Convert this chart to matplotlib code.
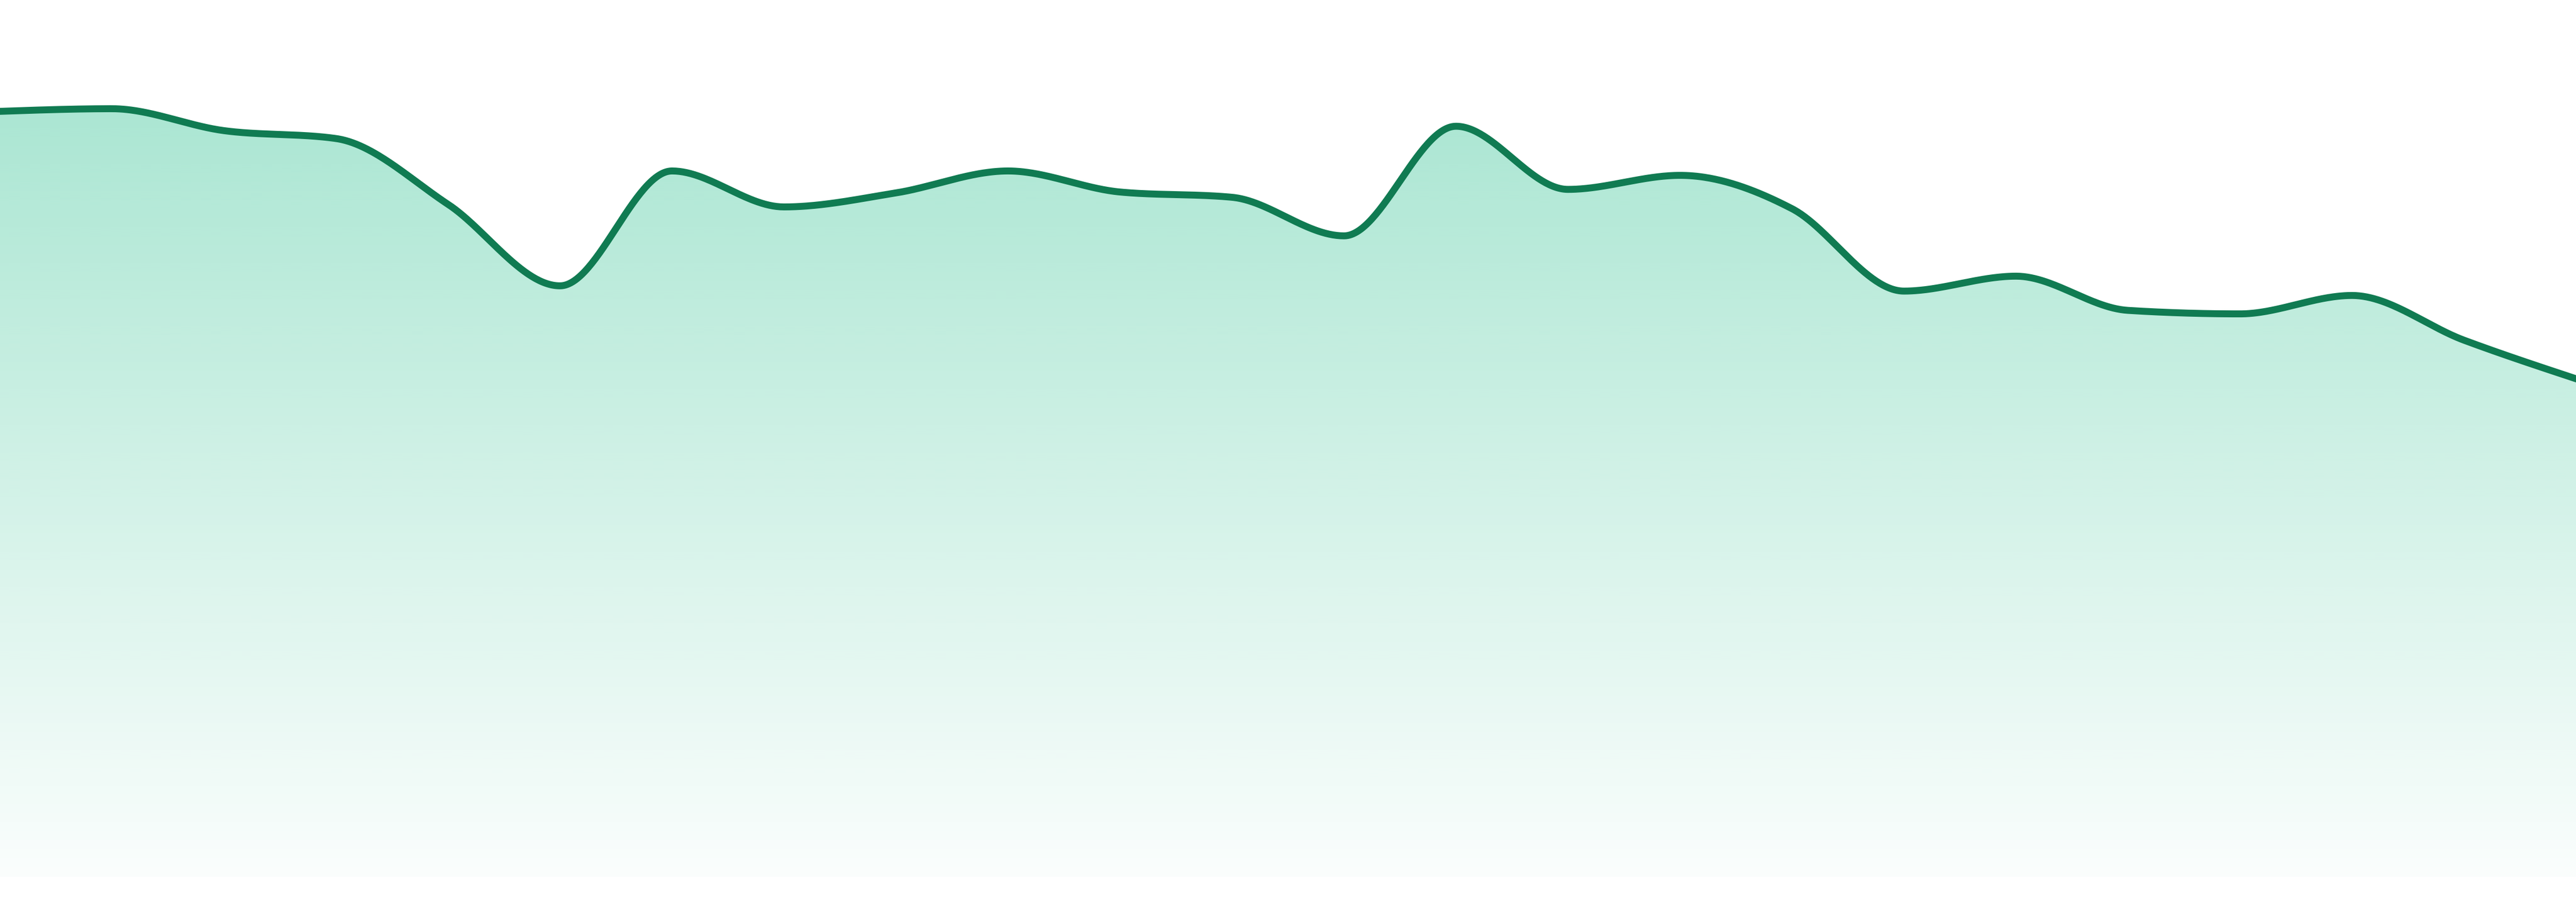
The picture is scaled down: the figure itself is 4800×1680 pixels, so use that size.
import numpy as np
import matplotlib
matplotlib.use("Agg")
import matplotlib.pyplot as plt
from matplotlib.colors import to_rgb

## data (one point per step)
steps = np.arange(24)
values = [87.3, 87.6, 85.1, 84.2, 76.7, 67.4, 80.5, 76.4, 78.0, 80.5, 78.1, 77.5,
          73.1, 85.6, 78.4, 80.0, 76.2, 66.8, 68.5, 64.6, 64.2, 66.3, 61.2, 56.8]

LINE = "#107b52"
FILL = "#10b981"


def monotone_x(x, y, n=60):
    # monotone cubic (same idea as d3.curveMonotoneX)
    x = np.asarray(x, float)
    y = np.asarray(y, float)
    h = np.diff(x)
    s = np.diff(y) / h
    t = np.zeros_like(y)
    for i in range(1, len(y) - 1):
        s0, s1 = s[i - 1], s[i]
        p = (s0 * h[i] + s1 * h[i - 1]) / (h[i - 1] + h[i])
        t[i] = (np.sign(s0) + np.sign(s1)) * min(abs(s0), abs(s1), 0.5 * abs(p))
    t[0] = (3 * s[0] - t[1]) / 2
    t[-1] = (3 * s[-1] - t[-2]) / 2
    xs, ys = [], []
    for i in range(len(x) - 1):
        u = np.linspace(0, 1, n, endpoint=(i == len(x) - 2))
        h00 = 2 * u**3 - 3 * u**2 + 1
        h10 = u**3 - 2 * u**2 + u
        h01 = -2 * u**3 + 3 * u**2
        h11 = u**3 - u**2
        xs.append(x[i] + u * h[i])
        ys.append(h00 * y[i] + h10 * h[i] * t[i] + h01 * y[i + 1] + h11 * h[i] * t[i + 1])
    return np.concatenate(xs), np.concatenate(ys)


xs, ys = monotone_x(steps, values)

fig = plt.figure(figsize=(16, 5.6), dpi=300)
ax = fig.add_axes([0, 47 / 1680, 1, 1633 / 1680])
ax.set_xlim(steps[0], steps[-1])
ax.set_ylim(0, 100)
ax.axis("off")

# gradient fill under the curve
rgb = to_rgb(FILL)
grad = np.zeros((256, 1, 4))
grad[:, 0, :3] = rgb
grad[:, 0, 3] = np.linspace(0.40, 0.02, 256)
im = ax.imshow(grad, extent=[steps[0], steps[-1], 0, 100], aspect="auto",
               origin="upper", interpolation="bilinear", zorder=1)
poly = ax.fill_between(xs, ys, 0, facecolor="none", edgecolor="none")
im.set_clip_path(poly.get_paths()[0], transform=ax.transData)

ax.plot(xs, ys, color=LINE, lw=3.1, solid_joinstyle="round", zorder=3, clip_on=False)

fig.savefig("out.png", dpi=300, facecolor="white")
